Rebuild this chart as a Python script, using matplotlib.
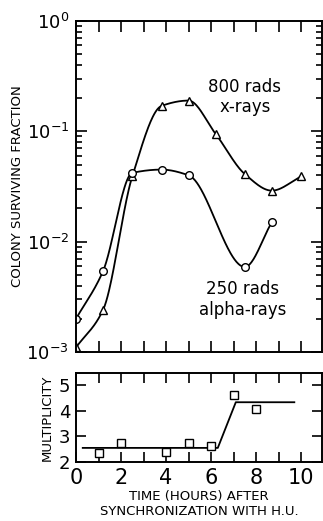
import numpy as np
import matplotlib
matplotlib.use("Agg")
import matplotlib.pyplot as plt
from matplotlib.ticker import FixedLocator, LogLocator, NullFormatter

# survival data
xray_t = [0.0, 1.2, 2.5, 3.8, 5.0, 6.2, 7.5, 8.7, 10.0]
xray_s = [0.0011, 0.0024, 0.039, 0.17, 0.19, 0.095, 0.041, 0.029, 0.039]
alpha_t = [0.0, 1.2, 2.5, 3.8, 5.0, 7.5, 8.7]
alpha_s = [0.0020, 0.0054, 0.042, 0.045, 0.040, 0.0059, 0.015]

# multiplicity data
mult_t = [1, 2, 4, 5, 6, 7, 8]
mult_v = [2.35, 2.74, 2.39, 2.74, 2.62, 4.60, 4.06]
fit_t = [0.3, 6.3, 7.1, 9.7]
fit_v = [2.55, 2.55, 4.33, 4.33]

ytick_labels = ["$10^{-3}$", "$10^{-2}$", "$10^{-1}$", "$10^{0}$"]


def smooth(x, y, n=300):
    # monotone cubic (Fritsch-Carlson) curve through the points, for drawing
    x = np.asarray(x, float)
    y = np.asarray(y, float)
    h = np.diff(x)
    d = np.diff(y) / h
    m = np.zeros_like(y)
    m[0], m[-1] = d[0], d[-1]
    for i in range(1, len(x) - 1):
        if d[i - 1] * d[i] > 0:
            w1 = 2 * h[i] + h[i - 1]
            w2 = h[i] + 2 * h[i - 1]
            m[i] = (w1 + w2) / (w1 / d[i - 1] + w2 / d[i])
    xs = np.linspace(x[0], x[-1], n)
    idx = np.clip(np.searchsorted(x, xs) - 1, 0, len(x) - 2)
    hh = h[idx]
    t = (xs - x[idx]) / hh
    ys = ((2 * t ** 3 - 3 * t ** 2 + 1) * y[idx]
          + (t ** 3 - 2 * t ** 2 + t) * hh * m[idx]
          + (-2 * t ** 3 + 3 * t ** 2) * y[idx + 1]
          + (t ** 3 - t ** 2) * hh * m[idx + 1])
    return xs, ys


plt.rcParams['font.family'] = 'DejaVu Sans'
fig = plt.figure(figsize=(3.23, 5.21), dpi=100)
W, H = 323.0, 521.0
ax = fig.add_axes([76 / W, (H - 352) / H, 246 / W, 331 / H])
ax2 = fig.add_axes([76 / W, (H - 462) / H, 246 / W, 89 / H])

# top panel
for t, s, mk in [(xray_t, xray_s, '^'), (alpha_t, alpha_s, 'o')]:
    xs, ys = smooth(t, np.log10(s))
    ax.plot(xs, 10 ** ys, color='black', lw=1.3)
    ax.plot(t, s, mk, mfc='white', mec='black', ms=5.5, mew=1.0)

ax.set_yscale('log')
ax.set_ylim(1e-3, 1)
ax.set_xlim(0, 10.93)
ax.yaxis.set_major_locator(FixedLocator([1e-3, 1e-2, 1e-1, 1]))
ax.set_yticklabels(ytick_labels, fontsize=13)
ax.yaxis.set_minor_locator(LogLocator(base=10, subs=np.arange(2, 10)))
ax.yaxis.set_minor_formatter(NullFormatter())
ax.set_xticks(np.arange(0, 11, 1))
ax.set_xticklabels([])
ax.tick_params(which='both', direction='in', top=True, right=True, width=1.2)
ax.tick_params(which='major', length=8, pad=5)
ax.tick_params(which='minor', length=4)
for sp in ax.spines.values():
    sp.set_linewidth(1.4)
fig.text(18 / W, (H - 186) / H, "COLONY SURVIVING FRACTION", rotation=90,
         ha='center', va='center', fontsize=9.5)

ax.text(7.5, 0.25, "800 rads", ha='center', va='center', fontsize=12)
ax.text(7.5, 0.165, "x-rays", ha='center', va='center', fontsize=12)
ax.text(7.4, 0.0037, "250 rads", ha='center', va='center', fontsize=12)
ax.text(7.4, 0.0024, "alpha-rays", ha='center', va='center', fontsize=12)

# bottom panel
ax2.plot(fit_t, fit_v, color='black', lw=1.3)
ax2.plot(mult_t, mult_v, 's', mfc='white', mec='black', ms=6, mew=1.0)
ax2.set_xlim(0, 10.93)
ax2.set_ylim(2, 5.47)
ax2.set_yticks([2, 3, 4, 5])
ax2.set_yticklabels(['2', '3', '4', '5'], fontsize=13)
ax2.set_xticks(np.arange(0, 11, 1))
ax2.set_xticklabels([str(i) if i % 2 == 0 else '' for i in range(11)],
                    fontsize=15)
ax2.tick_params(direction='in', top=True, right=True, length=7, width=1.2,
                pad=4)
ax2.set_ylabel("MULTIPLICITY", fontsize=9.5, labelpad=4)
ax2.set_xlabel("TIME (HOURS) AFTER\nSYNCHRONIZATION WITH H.U.",
               fontsize=9.5, labelpad=2, linespacing=1.2)
for sp in ax2.spines.values():
    sp.set_linewidth(1.4)

fig.savefig("out.png", dpi=100)
